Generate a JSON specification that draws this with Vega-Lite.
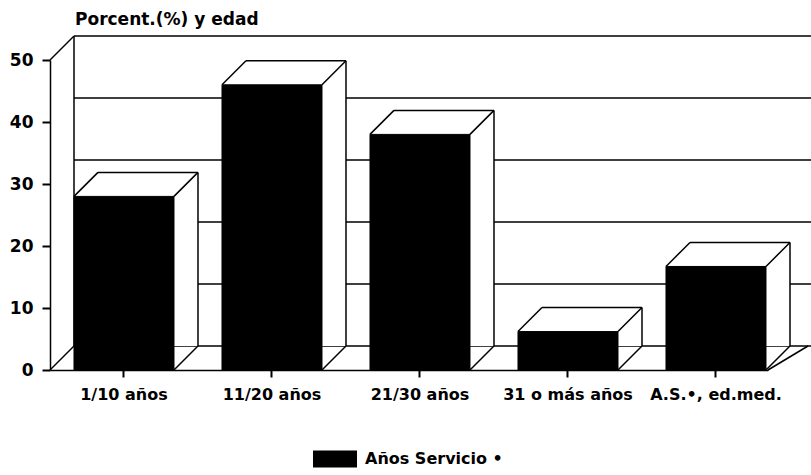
{
  "$schema": "https://vega.github.io/schema/vega-lite/v6.json",
  "width": 718,
  "height": 310,
  "autosize": {"type": "none"},
  "padding": {"left": 50, "top": 60, "right": 43, "bottom": 105},
  "background": "white",
  "title": {"text": "Porcent.(%) y edad", "anchor": "start", "frame": "group", "dx": 25, "offset": 6, "font": "DejaVu Sans", "fontSize": 17, "fontWeight": "bold", "color": "black"},
  "datasets": {
    "bars": [
      {"cat": "1/10  años", "v": 28, "serie": "Años Servicio •"},
      {"cat": "11/20 años", "v": 46, "serie": "Años Servicio •"},
      {"cat": "21/30 años", "v": 38, "serie": "Años Servicio •"},
      {"cat": "31 o más años", "v": 6.2, "serie": "Años Servicio •"},
      {"cat": "A.S.•, ed.med.", "v": 16.7, "serie": "Años Servicio •"}
    ],
    "grid": [{"g": 0}, {"g": 10}, {"g": 20}, {"g": 30}, {"g": 40}, {"g": 50}],
    "ends": [{"g": 0}, {"g": 50}]
  },
  "config": {
    "view": {"stroke": null},
    "axis": {"labelFont": "DejaVu Sans", "labelFontWeight": "bold", "labelColor": "black", "domainColor": "black", "domainWidth": 1.5, "tickColor": "black", "tickWidth": 2, "grid": false, "ticks": true, "title": null, "zindex": 1},
    "axisX": {"tickSize": 7, "labelPadding": 9, "labelAngle": 0, "bandPosition": 0.5, "labelFontSize": 16},
    "axisY": {"tickSize": 8, "labelPadding": 9, "labelFontSize": 17},
    "legend": {"labelFont": "DejaVu Sans", "labelFontWeight": "bold", "labelFontSize": 16, "labelColor": "black"}
  },
  "layer": [
    {
      "data": {"name": "grid"},
      "mark": {"type": "rule", "color": "black", "strokeWidth": 1.5, "xOffset": 24, "x2Offset": 50, "yOffset": -24},
      "encoding": {
        "x": {"value": 0},
        "x2": {"value": "width"},
        "y": {"field": "g", "type": "quantitative", "title": null, "scale": {"domain": [0, 50], "nice": false}}
      }
    },
    {
      "data": {"name": "ends"},
      "mark": {"type": "rule", "color": "black", "strokeWidth": 1.5, "x2Offset": 24, "y2Offset": -24},
      "encoding": {
        "x": {"value": 0},
        "x2": {"value": 0},
        "y": {"field": "g", "type": "quantitative", "title": null},
        "y2": {"field": "g"}
      }
    },
    {
      "data": {"values": [{"a": 0, "b": 50}]},
      "mark": {"type": "rule", "color": "black", "strokeWidth": 1.5, "xOffset": 24, "yOffset": -24, "y2Offset": -24},
      "encoding": {
        "x": {"value": 0},
        "y": {"field": "a", "type": "quantitative", "title": null},
        "y2": {"field": "b"}
      }
    },
    {
      "data": {"values": [{"a": 0}]},
      "mark": {"type": "rule", "color": "black", "strokeWidth": 1.5, "x2Offset": 40, "y2Offset": -24},
      "encoding": {
        "x": {"value": "width"},
        "x2": {"value": "width"},
        "y": {"field": "a", "type": "quantitative", "title": null},
        "y2": {"field": "a"}
      }
    },
    {
      "data": {"name": "bars"},
      "mark": {"type": "bar", "fill": "white", "strokeWidth": 0, "xOffset": 24, "yOffset": -24},
      "encoding": {
        "x": {"field": "cat", "type": "nominal", "sort": null, "title": null},
        "y": {"field": "v", "type": "quantitative", "title": null}
      }
    },
    {
      "data": {"name": "bars"},
      "mark": {"type": "bar", "stroke": "black", "strokeWidth": 1},
      "encoding": {
        "x": {"field": "cat", "type": "nominal", "sort": null, "title": null,
              "scale": {"type": "band", "paddingInner": 0.3243, "paddingOuter": 0.0878, "align": 0.923},
              "axis": {"labelAngle": 0, "bandPosition": 0.5, "title": null}},
        "y": {"field": "v", "type": "quantitative", "title": null,
              "axis": {"values": [0, 10, 20, 30, 40, 50], "title": null}},
        "color": {"field": "serie", "type": "nominal", "scale": {"range": ["black"]},
                  "legend": {"orient": "none", "legendX": 263, "legendY": 377, "direction": "horizontal", "title": null, "symbolType": "M-1,-0.386H1V0.386H-1Z", "symbolSize": 1936, "symbolStrokeWidth": 0, "labelOffset": 8}}
      }
    },
    {
      "data": {"name": "bars"},
      "mark": {"type": "rule", "color": "black", "strokeWidth": 1.5, "xOffset": 24, "x2Offset": 24, "yOffset": -24, "y2Offset": -24},
      "encoding": {
        "x": {"field": "cat", "type": "nominal", "sort": null, "bandPosition": 0, "title": null},
        "x2": {"field": "cat", "bandPosition": 1},
        "y": {"field": "v", "type": "quantitative", "title": null},
        "y2": {"field": "v"}
      }
    },
    {
      "data": {"name": "bars"},
      "mark": {"type": "rule", "color": "black", "strokeWidth": 1.5, "xOffset": 24, "yOffset": -24, "y2Offset": -24},
      "encoding": {
        "x": {"field": "cat", "type": "nominal", "sort": null, "bandPosition": 1, "title": null},
        "y": {"field": "v", "type": "quantitative", "title": null},
        "y2": {"datum": 0}
      }
    },
    {
      "data": {"name": "bars"},
      "mark": {"type": "rule", "color": "black", "strokeWidth": 1.5, "x2Offset": 24, "y2Offset": -24},
      "encoding": {
        "x": {"field": "cat", "type": "nominal", "sort": null, "bandPosition": 0, "title": null},
        "x2": {"field": "cat", "bandPosition": 0},
        "y": {"field": "v", "type": "quantitative", "title": null},
        "y2": {"field": "v"}
      }
    },
    {
      "data": {"name": "bars"},
      "mark": {"type": "rule", "color": "black", "strokeWidth": 1.5, "x2Offset": 24, "y2Offset": -24},
      "encoding": {
        "x": {"field": "cat", "type": "nominal", "sort": null, "bandPosition": 1, "title": null},
        "x2": {"field": "cat", "bandPosition": 1},
        "y": {"field": "v", "type": "quantitative", "title": null},
        "y2": {"field": "v"}
      }
    },
    {
      "data": {"name": "bars"},
      "mark": {"type": "rule", "color": "black", "strokeWidth": 1.5, "x2Offset": 24, "y2Offset": -24},
      "encoding": {
        "x": {"field": "cat", "type": "nominal", "sort": null, "bandPosition": 1, "title": null},
        "x2": {"field": "cat", "bandPosition": 1},
        "y": {"datum": 0},
        "y2": {"datum": 0}
      }
    }
  ]
}
